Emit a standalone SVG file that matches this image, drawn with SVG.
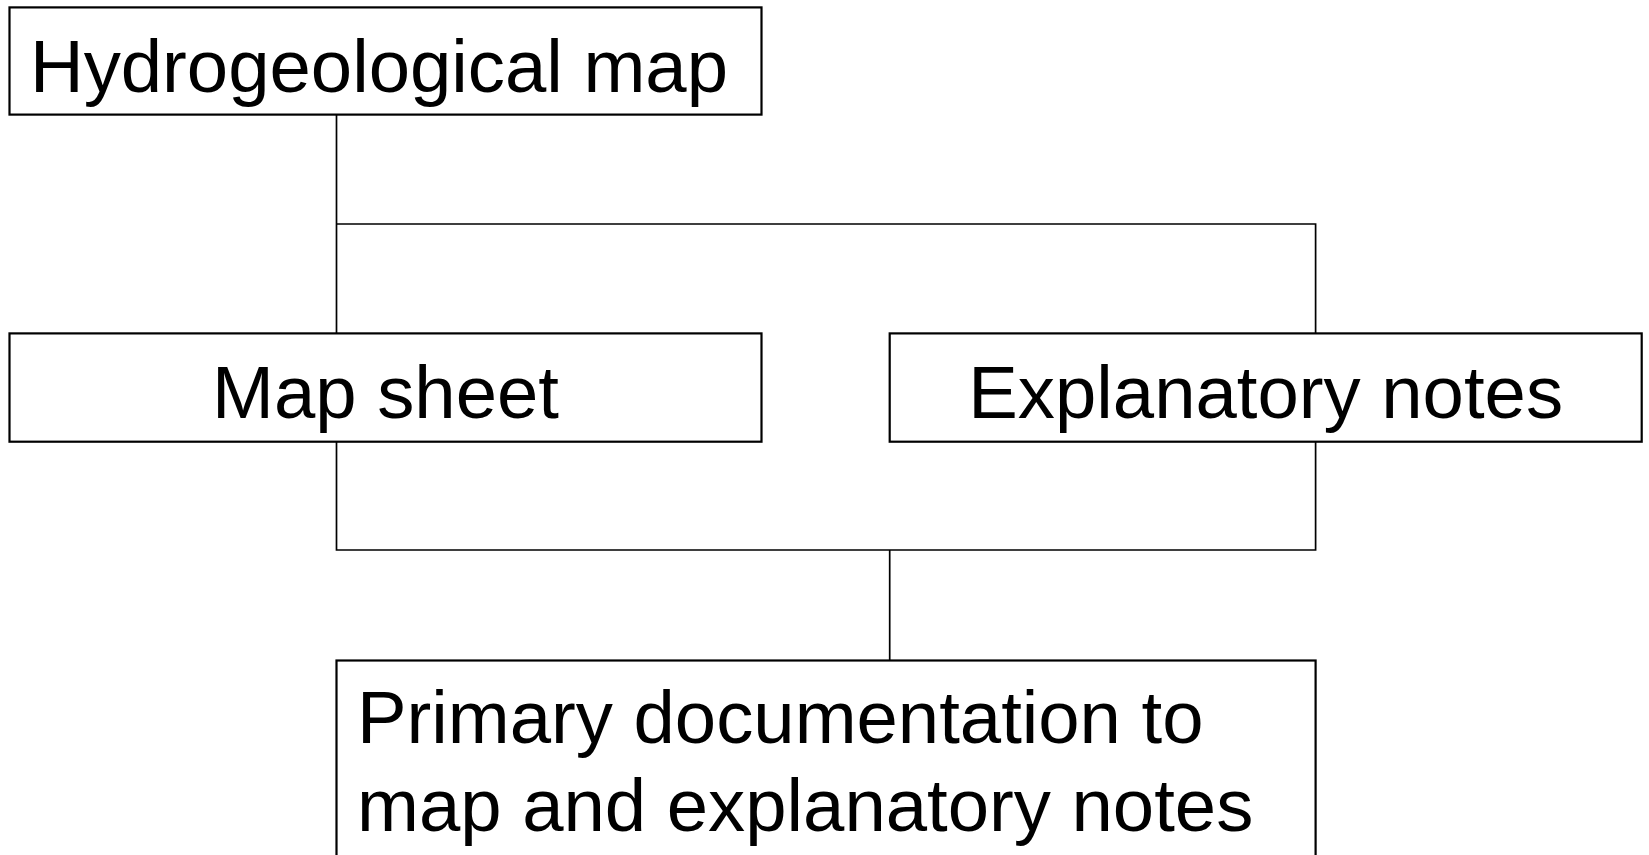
<svg xmlns="http://www.w3.org/2000/svg" width="1649" height="855" viewBox="0 0 1649 855">
<style>
.box{fill:#fff;stroke:#000;stroke-width:2.2}
.t{font-family:"Liberation Sans",Arial,sans-serif;font-size:74.3px;fill:#000}
.c{text-anchor:middle}
.ln{fill:none;stroke:#000;stroke-width:1.7}
</style>
<rect width="1649" height="855" fill="#fff"/>
<g id="connectors">
<path class="ln" d="M336.5,114.6 V333.4 M336.5,224 H1315.6 V333.4"/>
<path class="ln" d="M336.5,441.7 V550 H1315.6 V441.7 M889.7,550 V660.5"/>
</g>
<g id="hydro">
<rect class="box" x="9.5" y="7.4" width="752" height="107.2"/>
<text class="t" x="30" y="91.5">Hydrogeological map</text>
</g>
<g id="mapsheet">
<rect class="box" x="9.5" y="333.4" width="752" height="108.3"/>
<text class="t c" x="385.5" y="417.5">Map sheet</text>
</g>
<g id="notes">
<rect class="box" x="889.7" y="333.4" width="752" height="108.3"/>
<text class="t c" x="1265.7" y="417.5">Explanatory notes</text>
</g>
<g id="primary">
<rect class="box" x="336.5" y="660.5" width="979.1" height="210"/>
<text class="t" x="357" y="742.5">Primary documentation to</text>
<text class="t" x="357" y="831">map and explanatory notes</text>
</g>
</svg>
